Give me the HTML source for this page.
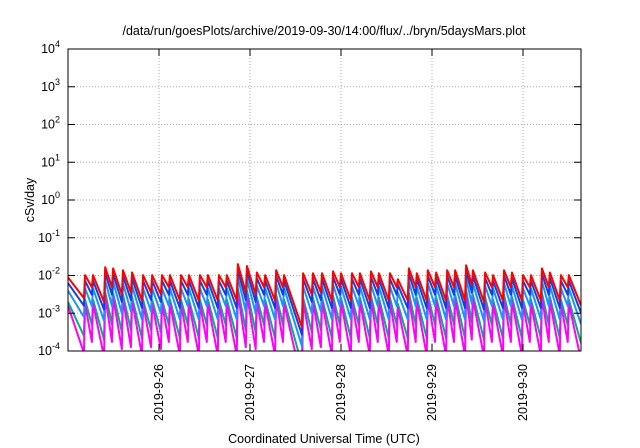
<!DOCTYPE html>
<html><head><meta charset="utf-8"><style>
body{margin:0;background:#fff}
svg{display:block;font-family:"Liberation Sans",sans-serif}
</style></head><body>
<svg id="chart" width="640" height="448" xmlns="http://www.w3.org/2000/svg">
<rect width="640" height="448" fill="#fff"/>
<text x="324" y="35" font-size="12.5" text-anchor="middle">/data/run/goesPlots/archive/2019-09-30/14:00/flux/../bryn/5daysMars.plot</text>
<text transform="translate(34,200) rotate(-90)" font-size="12.5" text-anchor="middle">cSv/day</text>
<text x="324" y="443" font-size="12.5" text-anchor="middle">Coordinated Universal Time (UTC)</text>
<defs><clipPath id="pc"><rect x="68" y="49" width="513" height="302"/></clipPath></defs>
<g id="grid"></g>
<g id="series" clip-path="url(#pc)"></g>
<rect x="68" y="49" width="513" height="302" fill="none" stroke="#000" stroke-width="1"/>
<g id="axes"></g>
</svg>
<script>
const hours=[0,4.5,6.6,9.8,11.9,14.5,16.9,19.8,22.2,24.8,26.9,29.8,31.9,34.8,36.9,39.8,41.9,44.8,47.2,49.8,52.0,54.9,57.0,62.0,64.6,67.0,69.9,72.0,74.9,77.0,79.9,82.0,84.9,87.0,89.9,92.0,94.9,97.1,100.0,102.1,105.0,106.8,110.0,112.1,115.0,117.1,120.0,122.1,125.0,127.1,130.0,132.1];
const endHour=135.3;
const redPeak=[-2.05,-1.99,-1.99,-1.78,-1.81,-1.86,-1.92,-1.99,-1.99,-1.99,-1.99,-1.99,-1.99,-1.99,-1.99,-1.99,-1.99,-1.70,-1.75,-1.92,-1.99,-1.86,-1.99,-1.94,-1.94,-1.94,-1.89,-1.94,-1.94,-1.94,-1.89,-1.94,-1.94,-2.10,-1.81,-1.94,-1.86,-1.92,-1.86,-1.86,-1.73,-1.86,-1.92,-1.99,-1.86,-1.92,-1.99,-1.99,-1.81,-1.92,-1.99,-1.99];
const redTrough=[-2.6,-2.31,-2.7,-2.31,-2.5,-2.45,-2.66,-2.45,-2.5,-2.31,-2.66,-2.31,-2.66,-2.31,-2.66,-2.31,-2.66,-2.45,-2.5,-2.31,-2.66,-2.31,-3.37,-2.5,-2.45,-2.66,-2.31,-2.66,-2.31,-2.66,-2.31,-2.66,-2.31,-2.66,-2.31,-2.66,-2.31,-2.66,-2.31,-2.66,-2.25,-2.7,-2.31,-2.66,-2.31,-2.66,-2.31,-2.66,-2.31,-2.66,-2.31,-2.79];
const bluePeak=[-2.20,-2.14,-2.14,-1.93,-1.96,-2.01,-2.07,-2.14,-2.14,-2.14,-2.14,-2.14,-2.14,-2.14,-2.14,-2.14,-2.14,-1.85,-1.90,-2.07,-2.14,-2.01,-2.14,-2.09,-2.09,-2.09,-2.04,-2.09,-2.09,-2.09,-2.04,-2.09,-2.09,-2.25,-1.96,-2.09,-2.01,-2.07,-2.01,-2.01,-1.88,-2.01,-2.07,-2.14,-2.01,-2.07,-2.14,-2.14,-1.96,-2.07,-2.14,-2.14];
const blueTrough=[-2.8,-2.51,-2.9,-2.51,-2.7,-2.65,-2.86,-2.65,-2.7,-2.51,-2.86,-2.51,-2.86,-2.51,-2.86,-2.51,-2.86,-2.65,-2.7,-2.51,-2.86,-2.51,-3.57,-2.7,-2.65,-2.86,-2.51,-2.86,-2.51,-2.86,-2.51,-2.86,-2.51,-2.86,-2.51,-2.86,-2.51,-2.86,-2.51,-2.86,-2.45,-2.9,-2.51,-2.86,-2.51,-2.86,-2.51,-2.86,-2.51,-2.86,-2.51,-2.99];
const lightPeak=[-2.40,-2.34,-2.34,-2.13,-2.16,-2.21,-2.27,-2.34,-2.34,-2.34,-2.34,-2.34,-2.34,-2.34,-2.34,-2.34,-2.34,-2.05,-2.10,-2.27,-2.34,-2.21,-2.34,-2.29,-2.29,-2.29,-2.24,-2.29,-2.29,-2.29,-2.24,-2.29,-2.29,-2.45,-2.16,-2.29,-2.21,-2.27,-2.21,-2.21,-2.08,-2.21,-2.27,-2.34,-2.21,-2.27,-2.34,-2.34,-2.16,-2.27,-2.34,-2.34];
const lightTrough=[-3.1,-2.81,-3.2,-2.81,-3.0,-2.95,-3.16,-2.95,-3.0,-2.81,-3.16,-2.81,-3.16,-2.81,-3.16,-2.81,-3.16,-2.95,-3.0,-2.81,-3.16,-2.81,-3.87,-3.0,-2.95,-3.16,-2.81,-3.16,-2.81,-3.16,-2.81,-3.16,-2.81,-3.16,-2.81,-3.16,-2.81,-3.16,-2.81,-3.16,-2.75,-3.2,-2.81,-3.16,-2.81,-3.16,-2.81,-3.16,-2.81,-3.16,-2.81,-3.29];
const greenPeak=[-2.70,-2.64,-2.64,-2.43,-2.46,-2.51,-2.57,-2.64,-2.64,-2.64,-2.64,-2.64,-2.64,-2.64,-2.64,-2.64,-2.64,-2.35,-2.40,-2.57,-2.64,-2.51,-2.64,-2.59,-2.59,-2.59,-2.54,-2.59,-2.59,-2.59,-2.54,-2.59,-2.59,-2.75,-2.46,-2.59,-2.51,-2.57,-2.51,-2.51,-2.38,-2.51,-2.57,-2.64,-2.51,-2.57,-2.64,-2.64,-2.46,-2.57,-2.64,-2.64];
const greenTrough=[-3.6,-3.31,-3.7,-3.31,-3.5,-3.45,-3.66,-3.45,-3.5,-3.31,-3.66,-3.31,-3.66,-3.31,-3.66,-3.31,-3.66,-3.45,-3.5,-3.31,-3.66,-3.31,-4.37,-3.5,-3.45,-3.66,-3.31,-3.66,-3.31,-3.66,-3.31,-3.66,-3.31,-3.66,-3.31,-3.66,-3.31,-3.66,-3.31,-3.66,-3.25,-3.7,-3.31,-3.66,-3.31,-3.66,-3.31,-3.66,-3.31,-3.66,-3.31,-3.79];
const magPeak=[-2.80,-2.74,-2.74,-2.53,-2.56,-2.61,-2.67,-2.74,-2.74,-2.74,-2.74,-2.74,-2.74,-2.74,-2.74,-2.74,-2.74,-2.45,-2.50,-2.67,-2.74,-2.61,-2.74,-2.69,-2.69,-2.69,-2.64,-2.69,-2.69,-2.69,-2.64,-2.69,-2.69,-2.85,-2.56,-2.69,-2.61,-2.67,-2.61,-2.61,-2.48,-2.61,-2.67,-2.74,-2.61,-2.67,-2.74,-2.74,-2.56,-2.67,-2.74,-2.74];
const magTrough=[-4.05,-3.76,-4.15,-3.76,-3.95,-3.9,-4.11,-3.9,-3.95,-3.76,-4.11,-3.76,-4.11,-3.76,-4.11,-3.76,-4.11,-3.9,-3.95,-3.76,-4.11,-3.76,-4.82,-3.95,-3.9,-4.11,-3.76,-4.11,-3.76,-4.11,-3.76,-4.11,-3.76,-4.11,-3.76,-4.11,-3.76,-4.11,-3.76,-4.11,-3.7,-4.15,-3.76,-4.11,-3.76,-4.11,-3.76,-4.11,-3.76,-4.11,-3.76,-4.24];
const yTickExp=[-4,-3,-2,-1,0,1,2,3,4];
const xTickLabels=["2019-9-26","2019-9-27","2019-9-28","2019-9-29","2019-9-30"];
const xTickHours=[24,48,72,96,120];

const NS="http://www.w3.org/2000/svg";
const X0=68,X1=581,Y0=351,Y1=49,HMAX=(581-68)/91*24;
function xs(h){return X0+h/HMAX*(X1-X0);}
function ys(l){return Y0-(l+4)/8*(Y0-Y1);}
function mk(tag,attrs,parent){const e=document.createElementNS(NS,tag);for(const k in attrs)e.setAttribute(k,attrs[k]);parent.appendChild(e);return e;}
const grid=document.getElementById('grid'),axes=document.getElementById('axes'),ser=document.getElementById('series');
yTickExp.forEach(e=>{
  const y=ys(e);
  if(e>-4&&e<4){const g=mk('line',{x1:X0,x2:X1,y1:y,y2:y,stroke:'#aaa','stroke-dasharray':'1,2','stroke-width':1},grid);
  
  }
  mk('line',{x1:X0,x2:X0+7,y1:y,y2:y,stroke:'#000'},axes);
  mk('line',{x1:X1,x2:X1-7,y1:y,y2:y,stroke:'#000'},axes);
  const t=mk('text',{x:X0-8,y:y+4,'font-size':12.5,'text-anchor':'end'},axes);
  
  
  t.appendChild(document.createTextNode('10'));
  const s=mk('tspan',{dy:-6,'font-size':9},t);s.textContent=String(e);
});
xTickHours.forEach((h,i)=>{
  const x=xs(h);
  const g=mk('line',{x1:x,x2:x,y1:Y1,y2:Y0,stroke:'#aaa','stroke-dasharray':'1,2','stroke-width':1},grid);
  
  
  mk('line',{x1:x,x2:x,y1:Y0,y2:Y0-7,stroke:'#000'},axes);
  mk('line',{x1:x,x2:x,y1:Y1,y2:Y1+7,stroke:'#000'},axes);
  const t=mk('text',{transform:`translate(${x+4},364) rotate(-90)`,'font-size':12.5,'text-anchor':'end'},axes);
  
  
  t.textContent=xTickLabels[i];
});
function drawSeries(peaks,troughs,color,name){
  const pts=[];
  for(let i=0;i<hours.length;i++){
    pts.push(xs(hours[i])+','+ys(peaks[i]));
    const nh=i+1<hours.length?hours[i+1]-0.3:endHour;
    pts.push(xs(nh)+','+ys(troughs[i]));
  }
  const p=mk('polyline',{points:pts.join(' '),fill:'none',stroke:color,'stroke-width':2,'stroke-linejoin':'round'},ser);
  
  
}
drawSeries(greenPeak,greenTrough,'#00b080','series-green');
drawSeries(magPeak,magTrough,'#ff00ff','series-magenta');
drawSeries(lightPeak,lightTrough,'#1e90ff','series-light-blue');
drawSeries(bluePeak,blueTrough,'#1040e0','series-blue');
drawSeries(redPeak,redTrough,'#ff0000','series-red');
</script>
</body></html>
